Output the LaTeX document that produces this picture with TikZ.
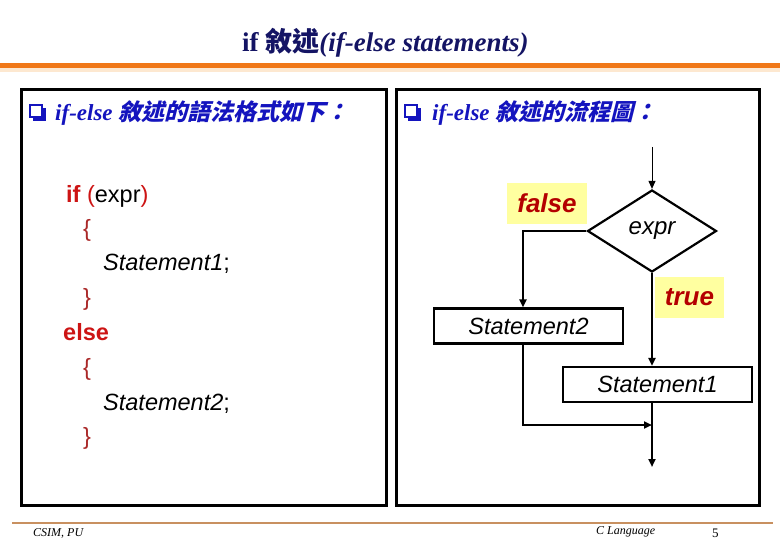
\documentclass[tikz,border=0pt]{standalone}
\usepackage{fontspec}
\setmainfont{Liberation Serif}
\newfontfamily\arial{Liberation Sans}
\newfontfamily\cjk{Noto Sans CJK TC}
\newfontfamily\cjksl{Noto Sans CJK TC}[FakeSlant=0.25]
\usetikzlibrary{shapes.geometric,arrows.meta}
\definecolor{navy}{RGB}{20,20,100}
\definecolor{headblue}{RGB}{20,20,190}
\definecolor{codered}{RGB}{205,20,20}
\definecolor{bracered}{RGB}{170,40,40}
\definecolor{lblred}{RGB}{180,0,0}
\definecolor{lblyellow}{RGB}{255,255,160}
\definecolor{orangeline}{RGB}{240,120,24}
\definecolor{orangefade}{RGB}{253,232,208}
\definecolor{footline}{RGB}{200,144,96}
\tikzset{
  txt/.style={inner sep=0pt, anchor=base west},
  code/.style={txt, font=\arial\fontsize{23.5}{28}\selectfont},
  panel/.style={draw=black, line width=3pt},
  stmt/.style={draw, line width=2.2pt, minimum width=189pt, minimum height=35pt, inner sep=0pt, font=\arial\itshape\fontsize{23.5}{28}\selectfont},
  lbl/.style={fill=lblyellow, inner sep=0pt, text=lblred, font=\arial\bfseries\itshape\fontsize{26}{30}\selectfont},
  arr/.style={line width=2.2pt, -{Triangle[length=8pt,width=7pt]}},
  head/.style={txt, text=headblue, font=\bfseries\itshape\fontsize{23}{28}\selectfont},
  foot/.style={txt, font=\itshape\fontsize{12}{14}\selectfont},
  chk/.style={fill=white, draw=headblue, line width=1.3pt},
}
\begin{document}
\begin{tikzpicture}[x=1pt,y=-1pt]
\useasboundingbox (0,0) rectangle (780,540);
\fill[white] (0,0) rectangle (780,540);

% title and header rule
\node[txt, text=navy, font=\bfseries\fontsize{27}{32}\selectfont] (title) at (242,52) {if {\cjk 敘述}\itshape(if-else statements)};
\fill[orangefade] (0,67) rectangle (780,72);
\draw[orangeline, line width=5pt] (0,65.5) -- (780,65.5);

% panels
\draw[panel] (21,90) rectangle (386,505);
\draw[panel] (396,90) rectangle (759,505);

% headings
\fill[headblue] (33,108) rectangle (46,121);
\filldraw[chk] (30,105) rectangle (42,117);
\node[head] (h1) at (55,121) {if-else {\cjksl 敘述的語法格式如下：}};
\fill[headblue] (408,108) rectangle (421,121);
\filldraw[chk] (405,105) rectangle (417,117);
\node[head] (h2) at (432,121) {if-else {\cjksl 敘述的流程圖：}};

% code
\node[code] (c1) at (66,203) {{\color{codered}\bfseries if} {\color{codered}(}expr{\color{codered})}};
\node[code, text=bracered] (c2) at (83,237) {\{};
\node[code] (c3) at (103,271) {{\itshape Statement1};};
\node[code, text=bracered] (c4) at (83,306) {\}};
\node[code, text=codered] (c5) at (63,341) {\bfseries else};
\node[code, text=bracered] (c6) at (83,375) {\{};
\node[code] (c7) at (103,410) {{\itshape Statement2};};
\node[code, text=bracered] (c8) at (83,444) {\}};

% flowchart
\coordinate (top) at (652,147);
\node[draw, shape=diamond, line width=2.2pt, minimum width=129pt, minimum height=82pt, inner sep=0pt, font=\arial\itshape\fontsize{24}{28}\selectfont] (d) at (652,231) {expr};
\node[lbl, minimum width=80pt, minimum height=41pt] (f) at (547,203.5) {false};
\node[lbl, minimum width=69pt, minimum height=41pt] (t) at (689.5,297.5) {true};
\node[stmt] (s2) at (528.5,326) {Statement2};
\node[stmt] (s1) at (657.5,384.5) {Statement1};
\coordinate (fx) at (523,0);
\coordinate (j) at (652,425);
\coordinate (e) at (652,467);

\draw[arr, line width=1pt] (top) -- (d.north);
\draw[arr] (d.west) -| (s2.north -| fx);
\draw[arr] (d.south) -- (s1.north -| d.south);
\draw[arr] (s2.south -| fx) |- (j);
\draw[arr] (s1.south -| j) -- (e);

% footer
\draw[footline, line width=2.5pt] (12,523) -- (773,523);
\node[foot] (ft1) at (33,536) {CSIM, PU};
\node[foot] (ft2) at (596,534) {C Language};
\node[txt, font=\fontsize{13}{15}\selectfont] (ft3) at (712,537) {5};
\end{tikzpicture}
\end{document}
